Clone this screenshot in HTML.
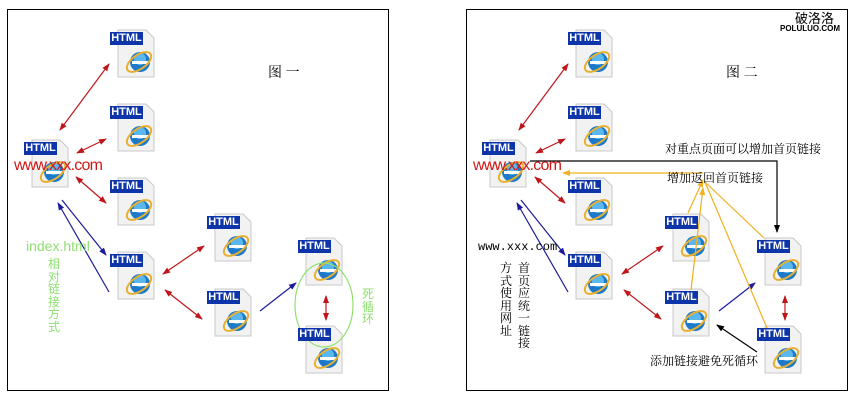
<!DOCTYPE html>
<html><head><meta charset="utf-8"><style>
body{margin:0;width:860px;height:400px;background:#fff;position:relative;overflow:hidden;font-family:"Liberation Sans","Noto Sans CJK SC",sans-serif}
.t{position:absolute;white-space:nowrap}
.v{position:absolute;width:13px;line-height:12.5px;font-size:12px;word-wrap:break-word}
.lb{position:absolute;background:#0d34a8;color:#fff;font-size:11px;font-weight:bold;width:33px;height:13px;line-height:13px;text-align:center}
</style></head><body>
<svg width="860" height="400" style="position:absolute;left:0;top:0">
<defs>
<marker id="r" markerWidth="8" markerHeight="8" refX="7" refY="4" orient="auto-start-reverse" markerUnits="userSpaceOnUse"><path d="M0,1 L8,4 L0,7z" fill="#c0161a"/></marker>
<marker id="b" markerWidth="8" markerHeight="8" refX="7" refY="4" orient="auto-start-reverse" markerUnits="userSpaceOnUse"><path d="M0,1 L8,4 L0,7z" fill="#1c1c9a"/></marker>
<marker id="k" markerWidth="8" markerHeight="8" refX="7" refY="4" orient="auto-start-reverse" markerUnits="userSpaceOnUse"><path d="M0,1 L8,4 L0,7z" fill="#000"/></marker>
<marker id="y" markerWidth="8" markerHeight="8" refX="7" refY="4" orient="auto-start-reverse" markerUnits="userSpaceOnUse"><path d="M0,1 L8,4 L0,7z" fill="#f0b020"/></marker>
<g id="ic">
<path d="M8,-2 H36 L44,6 V45 H8 Z" fill="#f2f2f2" stroke="#c8c8c8"/>
<circle cx="30" cy="30" r="10" fill="#1e7ac8"/>
<circle cx="30" cy="27" r="6" fill="#5ab8ee"/>
<rect x="22" y="29" width="16" height="3" fill="#fff"/>
<ellipse cx="29" cy="30" rx="14" ry="7" fill="none" stroke="#e8b030" stroke-width="2" transform="rotate(-35 29 30)"/>
</g>
</defs>
<rect x="7.5" y="9.5" width="381" height="381" fill="none" stroke="#000"/>
<rect x="466.5" y="9.5" width="381" height="381" fill="none" stroke="#000"/>
<use href="#ic" x="110" y="32"/><use href="#ic" x="110" y="106"/><use href="#ic" x="110" y="180"/>
<use href="#ic" x="24" y="142"/><use href="#ic" x="110" y="254"/><use href="#ic" x="207" y="216"/>
<use href="#ic" x="207" y="291"/><use href="#ic" x="298" y="240"/><use href="#ic" x="298" y="328"/>
<use href="#ic" x="568" y="32"/><use href="#ic" x="568" y="106"/><use href="#ic" x="568" y="180"/>
<use href="#ic" x="482" y="142"/><use href="#ic" x="568" y="254"/><use href="#ic" x="665" y="216"/>
<use href="#ic" x="665" y="291"/><use href="#ic" x="757" y="240"/><use href="#ic" x="757" y="328"/>
<g stroke-width="1.2" fill="none">
<g stroke="#c0161a" marker-start="url(#r)" marker-end="url(#r)">
<line x1="60" y1="130" x2="109" y2="64"/><line x1="77" y1="153" x2="106" y2="139"/><line x1="76" y1="177" x2="106" y2="203"/>
<line x1="163" y1="274" x2="204" y2="246"/><line x1="165" y1="290" x2="202" y2="319"/><line x1="326" y1="296" x2="326" y2="320"/>
<line x1="519" y1="130" x2="568" y2="64"/><line x1="536" y1="153" x2="565" y2="139"/><line x1="535" y1="177" x2="565" y2="203"/>
<line x1="622" y1="274" x2="663" y2="246"/><line x1="624" y1="290" x2="661" y2="319"/><line x1="785" y1="296" x2="785" y2="320"/>
</g>
<g stroke="#1c1c9a">
<line x1="62" y1="200" x2="106" y2="255" marker-end="url(#b)"/><line x1="109" y1="292" x2="58" y2="203" marker-end="url(#b)"/>
<line x1="260" y1="311" x2="296" y2="283" marker-end="url(#b)"/>
<line x1="521" y1="200" x2="565" y2="255" marker-end="url(#b)"/><line x1="568" y1="292" x2="517" y2="203" marker-end="url(#b)"/>
<line x1="719" y1="311" x2="755" y2="283" marker-end="url(#b)"/>
</g>
<ellipse cx="324" cy="305" rx="29" ry="42" stroke="#8ee070"/>
<polyline points="530,161 777,161 777,232" stroke="#000" marker-end="url(#k)"/>
<line x1="757" y1="352" x2="717" y2="325" stroke="#000" marker-end="url(#k)"/>
<g stroke="#f0b020">
<line x1="703" y1="173" x2="563" y2="173" marker-end="url(#y)"/>
<line x1="688" y1="213" x2="703" y2="180" marker-end="url(#y)"/>
<line x1="691" y1="290" x2="703" y2="188" marker-end="url(#y)"/>
<line x1="764" y1="238" x2="705" y2="182"/>
<line x1="767" y1="328" x2="705" y2="182"/>
</g>
</g>
</svg>
<div class="lb" style="left:110px;top:32px">HTML</div><div class="lb" style="left:110px;top:106px">HTML</div><div class="lb" style="left:110px;top:180px">HTML</div>
<div class="lb" style="left:24px;top:142px">HTML</div><div class="lb" style="left:110px;top:254px">HTML</div><div class="lb" style="left:207px;top:216px">HTML</div>
<div class="lb" style="left:207px;top:291px">HTML</div><div class="lb" style="left:298px;top:240px">HTML</div><div class="lb" style="left:298px;top:328px">HTML</div>
<div class="lb" style="left:568px;top:32px">HTML</div><div class="lb" style="left:568px;top:106px">HTML</div><div class="lb" style="left:568px;top:180px">HTML</div>
<div class="lb" style="left:482px;top:142px">HTML</div><div class="lb" style="left:568px;top:254px">HTML</div><div class="lb" style="left:665px;top:216px">HTML</div>
<div class="lb" style="left:665px;top:291px">HTML</div><div class="lb" style="left:757px;top:240px">HTML</div><div class="lb" style="left:757px;top:328px">HTML</div>
<div class="t" style="left:14px;top:157px;font-size:16px;color:#d01818;letter-spacing:-0.8px">www.xxx.com</div>
<div class="t" style="left:473px;top:157px;font-size:16px;color:#d01818;letter-spacing:-0.8px">www.xxx.com</div>
<div class="t" style="left:26px;top:238px;font-size:14px;color:#8ee070">index.html</div>
<div class="v" style="left:48px;top:258px;color:#8ee070">相对链接方式</div>
<div class="v" style="left:362px;top:288px;color:#8ee070">死循环</div>
<div class="t" style="left:268px;top:62px;font-size:14px;font-family:'Noto Serif CJK SC',serif">图 一</div>
<div class="t" style="left:726px;top:62px;font-size:14px;font-family:'Noto Serif CJK SC',serif">图 二</div>
<div class="t" style="left:795px;top:8px;font-size:13px">破洛洛</div>
<div class="t" style="left:780px;top:24px;font-size:8px;font-weight:bold">POLULUO.COM</div>
<div class="t" style="left:665px;top:140px;font-size:12px;font-family:'Noto Serif CJK SC',serif">对重点页面可以增加首页链接</div>
<div class="t" style="left:667px;top:169px;font-size:12px;font-family:'Noto Serif CJK SC',serif">增加返回首页链接</div>
<div class="t" style="left:650px;top:352px;font-size:12px;font-family:'Noto Serif CJK SC',serif">添加链接避免死循环</div>
<div class="t" style="left:478px;top:240px;font-size:12px;font-family:'Liberation Mono',monospace">www.xxx.com</div>
<div class="v" style="left:518px;top:262px;font-family:'Noto Serif CJK SC',serif">首页应统一链接</div>
<div class="v" style="left:500px;top:262px;font-family:'Noto Serif CJK SC',serif">方式使用网址</div>
</body></html>
